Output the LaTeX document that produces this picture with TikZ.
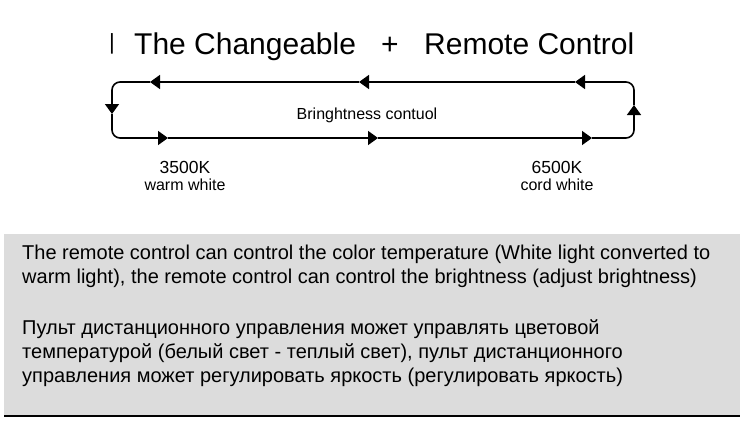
\documentclass[tikz,border=0pt]{standalone}
\usepackage{fontspec}
\setmainfont{Liberation Sans}
\usetikzlibrary{arrows.meta}
\begin{document}
\begin{tikzpicture}[x=1pt,y=-1pt,
  loopline/.style={line width=1.6pt, rounded corners=8pt, -{Triangle[length=10pt,width=14pt]}},
  lbl/.style={inner sep=0pt, anchor=base},
  ttl/.style={inner sep=0pt, anchor=base west, font=\fontsize{30}{34}\selectfont},
  boxtxt/.style={inner sep=0pt, anchor=base west, font=\fontsize{20}{24}\selectfont}]
\useasboundingbox (0,0) rectangle (750,439);
% title
\node[lbl, font=\fontsize{22}{26}\selectfont] (t1) at (112,49) {|};
\node[ttl] (t2) at (134,54) {The Changeable};
\node[lbl, font=\fontsize{30}{34}\selectfont] (t3) at (390,54) {+};
\node[ttl] (t4) at (424,54) {Remote Control};
% loop coordinates
\coordinate (tr) at (634,82);
\coordinate (ta) at (575,82);
\coordinate (tb) at (359,82);
\coordinate (tc) at (150,82);
\coordinate (lm) at (112,114);
\coordinate (ba) at (168,138);
\coordinate (bb) at (378,138);
\coordinate (bc) at (592,138);
\coordinate (rm) at (634,105);
\draw[loopline] (rm) -- (tr) -- (ta);
\draw[loopline] (ta) -- (tb);
\draw[loopline] (tb) -- (tc);
\draw[loopline] (tc) -| (lm);
\draw[loopline] (lm) |- (ba);
\draw[loopline] (ba) -- (bb);
\draw[loopline] (bb) -- (bc);
\draw[loopline] (bc) -| (rm);
\node[lbl, font=\fontsize{16}{18}\selectfont] (br) at (367,119) {Bringhtness contuol};
\node[lbl, font=\fontsize{17.5}{20}\selectfont] (k1) at (185,173) {3500K};
\node[lbl, font=\fontsize{16}{18}\selectfont] (w1) at (185,190) {warm white};
\node[lbl, font=\fontsize{17.5}{20}\selectfont] (k2) at (557,173) {6500K};
\node[lbl, font=\fontsize{16}{18}\selectfont] (w2) at (557,190) {cord white};
% gray box
\fill[fill={rgb,255:red,220;green,220;blue,220}] (4,234) rectangle (740,416);
\draw[line width=1.2pt] (4,416) -- (740,416);
\node[boxtxt] (e1) at (22,259) {The remote control can control the color temperature (White light converted to};
\node[boxtxt] (e2) at (22,283) {warm light), the remote control can control the brightness (adjust brightness)};
\node[boxtxt] (r1) at (22,334) {Пульт дистанционного управления может управлять цветовой};
\node[boxtxt] (r2) at (22,358) {температурой (белый свет - теплый свет), пульт дистанционного};
\node[boxtxt] (r3) at (22,382) {управления может регулировать яркость (регулировать яркость)};
\end{tikzpicture}
\end{document}
